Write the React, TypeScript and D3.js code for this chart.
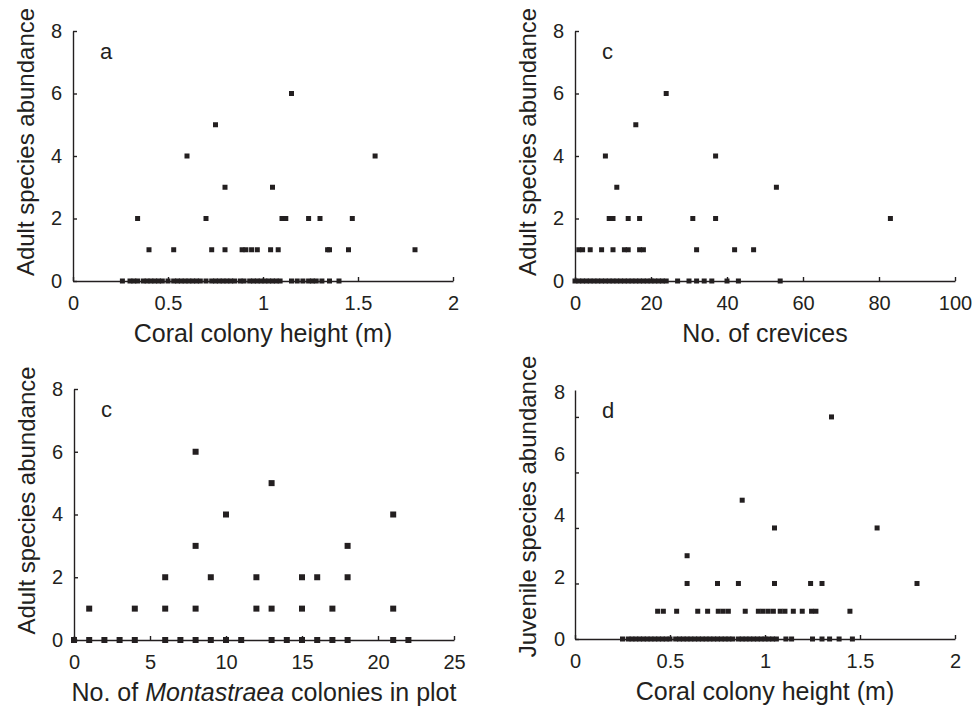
import { useRef, useEffect } from "react";
import * as d3 from "d3";

const FONT = "'Liberation Sans', Arial, Helvetica, sans-serif";
const INK = "#231f20";

// each entry: [abundance, x values of the squares drawn at that abundance]
const heightAdult: [number, number[]][] = [
  [0, [0.26, 0.3, 0.32, 0.34, 0.37, 0.39, 0.41, 0.43, 0.45, 0.47, 0.5, 0.53, 0.55, 0.57, 0.59, 0.61, 0.63, 0.65, 0.67, 0.7, 0.73, 0.75, 0.77, 0.79, 0.81, 0.83, 0.85, 0.88, 0.9, 0.93, 0.95, 0.97, 0.99, 1.01, 1.03, 1.05, 1.07, 1.09, 1.15, 1.18, 1.21, 1.24, 1.26, 1.28, 1.31, 1.35, 1.4]],
  [1, [0.4, 0.53, 0.73, 0.8, 0.89, 0.91, 0.94, 0.97, 1.04, 1.08, 1.34, 1.35, 1.45, 1.8]],
  [2, [0.34, 0.7, 1.1, 1.12, 1.24, 1.3, 1.47]],
  [3, [0.8, 1.05]],
  [4, [0.6, 1.59]],
  [5, [0.75]],
  [6, [1.15]],
];

const crevicesAdult: [number, number[]][] = [
  [0, [0, 1, 2, 3, 4, 5, 6, 7, 8, 9, 10, 11, 12, 13, 14, 15, 16, 17, 18, 19, 20, 21, 22, 23, 24, 27, 30, 32, 34, 36, 40, 43, 54]],
  [1, [1, 2, 4, 7, 10, 13, 14, 17, 18, 32, 42, 47]],
  [2, [9, 10, 14, 17, 31, 37, 83]],
  [3, [11, 53]],
  [4, [8, 37]],
  [5, [16]],
  [6, [24]],
];

const colonyAdult: [number, number[]][] = [
  [0, [0, 1, 2, 3, 4, 6, 7, 8, 9, 10, 11, 13, 14, 15, 16, 17, 18, 21, 22]],
  [1, [1, 4, 6, 8, 12, 13, 15, 17, 21]],
  [2, [6, 9, 12, 15, 16, 18]],
  [3, [8, 18]],
  [4, [10, 21]],
  [5, [13]],
  [6, [8]],
];

const heightJuvenile: [number, number[]][] = [
  [0, [0.25, 0.28, 0.3, 0.32, 0.34, 0.36, 0.38, 0.4, 0.42, 0.44, 0.46, 0.48, 0.5, 0.53, 0.55, 0.57, 0.59, 0.61, 0.63, 0.65, 0.67, 0.69, 0.71, 0.73, 0.75, 0.77, 0.79, 0.81, 0.83, 0.86, 0.88, 0.9, 0.92, 0.94, 0.96, 0.98, 1.0, 1.02, 1.04, 1.06, 1.11, 1.14, 1.25, 1.3, 1.34, 1.39, 1.46]],
  [1, [0.435, 0.465, 0.535, 0.646, 0.698, 0.754, 0.78, 0.807, 0.896, 0.965, 0.99, 1.017, 1.044, 1.08, 1.105, 1.149, 1.196, 1.245, 1.268, 1.447]],
  [2, [0.59, 0.75, 0.86, 1.05, 1.24, 1.3, 1.8]],
  [3, [0.59]],
  [4, [1.05, 1.59]],
  [5, [0.88]],
  [8, [1.35]],
];

const heightTicks = [0, 0.5, 1, 1.5, 2];
const creviceTicks = [0, 20, 40, 60, 80, 100];
const colonyTicks = [0, 5, 10, 15, 20, 25];
const abundanceTicks = [0, 2, 4, 6, 8];

function Panel({ letter, left, right, top, bottom, xMax, xTicks, yMax, labelTop, levels, size, xTitle, yTitle, yShift }) {
  const gx = useRef(null),
    gy = useRef(null),
    gl = useRef(null);

  const x = d3.scaleLinear().domain([0, xMax]).range([left, right]);
  const y = d3.scaleLinear().domain([0, yMax]).range([bottom, top]);
  // panel d prints its labels on an even spacing that does not follow the tick marks
  const yl = d3.scaleLinear().domain([0, 8]).range([bottom, labelTop ?? top]);

  const points = levels.flatMap(([v, xs]) => xs.map((d) => ({ x: d, y: v })));

  useEffect(() => {
    const style = (g) =>
      g
        .attr("font-size", 20)
        .attr("font-family", FONT)
        .style("color", INK)
        .call((g) => g.select(".domain").attr("stroke-width", 1.4))
        .call((g) => g.selectAll(".tick line").attr("stroke-width", 1.4));

    d3.select(gx.current)
      .call(d3.axisBottom(x).tickValues(xTicks).tickSizeInner(-4).tickSizeOuter(0).tickPadding(15).tickFormat(d3.format("~g")))
      .call(style);

    d3.select(gy.current)
      .call(
        d3
          .axisLeft(y)
          .tickValues(abundanceTicks)
          .tickSizeInner(-4)
          .tickSizeOuter(0)
          .tickPadding(11)
          .tickFormat(labelTop ? () => "" : d3.format("~g"))
      )
      .call(style);

    if (labelTop) {
      d3.select(gl.current)
        .call(d3.axisLeft(yl).tickValues(abundanceTicks).tickSize(0).tickPadding(10))
        .call(style)
        .call((g) => g.select(".domain").remove())
        .call((g) => g.selectAll(".tick line").remove());
    }
    // eslint-disable-next-line
  }, [gx, gy, gl]);

  const midY = (top + bottom) / 2 + yShift;

  return (
    <g>
      <g ref={gx} transform={`translate(0,${bottom})`} />
      <g ref={gy} transform={`translate(${left},0)`} />
      {labelTop ? <g ref={gl} transform={`translate(${left},0)`} /> : null}
      <g fill={INK}>
        {points.map((d, i) => (
          <rect key={i} x={x(d.x) - size / 2} y={y(d.y) - size / 2} width={size} height={size} />
        ))}
      </g>
      <text x={left + 27} y={top + 28} fontSize={22} fontFamily={FONT} fill={INK}>
        {letter}
      </text>
      <text x={(left + right) / 2} y={bottom + 61} fontSize={25} fontFamily={FONT} fill={INK} textAnchor="middle">
        {xTitle}
      </text>
      <text
        transform={`translate(${left - 39},${midY}) rotate(-90)`}
        fontSize={24}
        fontFamily={FONT}
        fill={INK}
        textAnchor="middle"
      >
        {yTitle}
      </text>
    </g>
  );
}

export default function App() {
  return (
    <svg width={975} height={709} style={{ position: "absolute", left: 0, top: 0, background: "#fff" }}>
      <Panel
        letter="a"
        left={73}
        right={453}
        top={31}
        bottom={281}
        xMax={2}
        xTicks={heightTicks}
        yMax={8}
        levels={heightAdult}
        size={5}
        xTitle="Coral colony height (m)"
        yTitle="Adult species abundance"
        yShift={-14}
      />
      <Panel
        letter="c"
        left={575}
        right={955}
        top={31}
        bottom={281}
        xMax={100}
        xTicks={creviceTicks}
        yMax={8}
        levels={crevicesAdult}
        size={5}
        xTitle="No. of crevices"
        yTitle="Adult species abundance"
        yShift={-14}
      />
      <Panel
        letter="c"
        left={74}
        right={454}
        top={389}
        bottom={640}
        xMax={25}
        xTicks={colonyTicks}
        yMax={8}
        levels={colonyAdult}
        size={6}
        xTitle={
          <>
            No. of <tspan fontStyle="italic">Montastraea</tspan> colonies in plot
          </>
        }
        yTitle="Adult species abundance"
        yShift={-14}
      />
      <Panel
        letter="d"
        left={575}
        right={955}
        top={390}
        bottom={639}
        xMax={2}
        xTicks={heightTicks}
        yMax={8.97}
        labelTop={392}
        levels={heightJuvenile}
        size={5}
        xTitle="Coral colony height (m)"
        yTitle="Juvenile species abundance"
        yShift={-8}
      />
    </svg>
  );
}
